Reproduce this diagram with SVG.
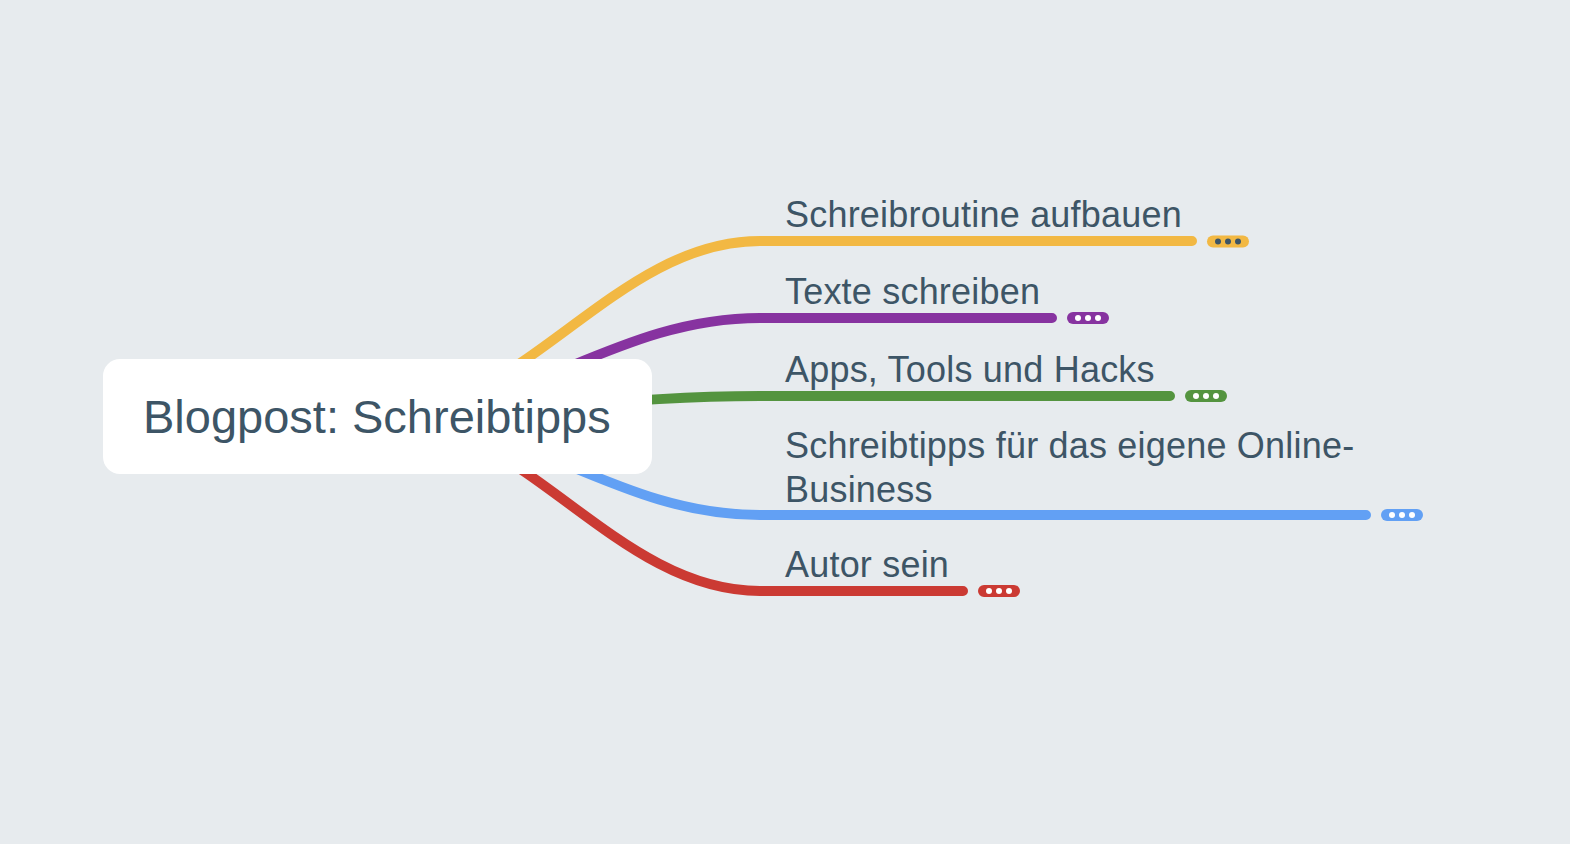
<svg xmlns="http://www.w3.org/2000/svg" width="1570" height="844" viewBox="0 0 1570 844">
<style>
.bg{fill:#E7EBEE}
.conn{fill:none;stroke-width:10;stroke-linecap:round}
.lbl{font-family:"Liberation Sans",Arial,sans-serif;font-size:36px;letter-spacing:0.2px;fill:#3D5566}
.root{font-family:"Liberation Sans",Arial,sans-serif;font-size:47px;fill:#3D5566}
.dot{fill:#FFFFFF}
.dotd{fill:#3D5566}
</style>
<rect class="bg" x="0" y="0" width="1570" height="844"/>
<g id="connectors">
<path class="conn" stroke="#F2B843" d="M377 416 C523.5 416 613.5 241 760 241 H1192"/>
<path class="conn" stroke="#8733A0" d="M377 416 C523.5 416 613.5 318 760 318 H1052"/>
<path class="conn" stroke="#54943F" d="M377 416 C523.5 416 613.5 396 760 396 H1170"/>
<path class="conn" stroke="#62A0F4" d="M377 416 C523.5 416 613.5 515 760 515 H1366"/>
<path class="conn" stroke="#CB3A33" d="M377 416 C523.5 416 613.5 591 760 591 H963"/>
</g>
<g id="root">
<rect x="103" y="359" width="549" height="115" rx="17" fill="#FFFFFF"/>
<text class="root" x="143" y="433">Blogpost: Schreibtipps</text>
</g>
<g id="node1">
<text class="lbl" x="785" y="227">Schreibroutine aufbauen</text>
<rect x="1207" y="235.5" width="42" height="12" rx="6" fill="#F2B843"/>
<circle class="dotd" cx="1218" cy="241.5" r="3"/><circle class="dotd" cx="1228" cy="241.5" r="3"/><circle class="dotd" cx="1238" cy="241.5" r="3"/>
</g>
<g id="node2">
<text class="lbl" x="785" y="304">Texte schreiben</text>
<rect x="1067" y="312" width="42" height="12" rx="6" fill="#8733A0"/>
<circle class="dot" cx="1078" cy="318" r="3"/><circle class="dot" cx="1088" cy="318" r="3"/><circle class="dot" cx="1098" cy="318" r="3"/>
</g>
<g id="node3">
<text class="lbl" x="785" y="382">Apps, Tools und Hacks</text>
<rect x="1185" y="390" width="42" height="12" rx="6" fill="#54943F"/>
<circle class="dot" cx="1196" cy="396" r="3"/><circle class="dot" cx="1206" cy="396" r="3"/><circle class="dot" cx="1216" cy="396" r="3"/>
</g>
<g id="node4">
<text class="lbl" x="785" y="458">Schreibtipps für das eigene Online-</text>
<text class="lbl" x="785" y="502">Business</text>
<rect x="1381" y="509" width="42" height="12" rx="6" fill="#62A0F4"/>
<circle class="dot" cx="1392" cy="515" r="3"/><circle class="dot" cx="1402" cy="515" r="3"/><circle class="dot" cx="1412" cy="515" r="3"/>
</g>
<g id="node5">
<text class="lbl" x="785" y="577">Autor sein</text>
<rect x="978" y="585" width="42" height="12" rx="6" fill="#CB3A33"/>
<circle class="dot" cx="989" cy="591" r="3"/><circle class="dot" cx="999" cy="591" r="3"/><circle class="dot" cx="1009" cy="591" r="3"/>
</g>
</svg>
